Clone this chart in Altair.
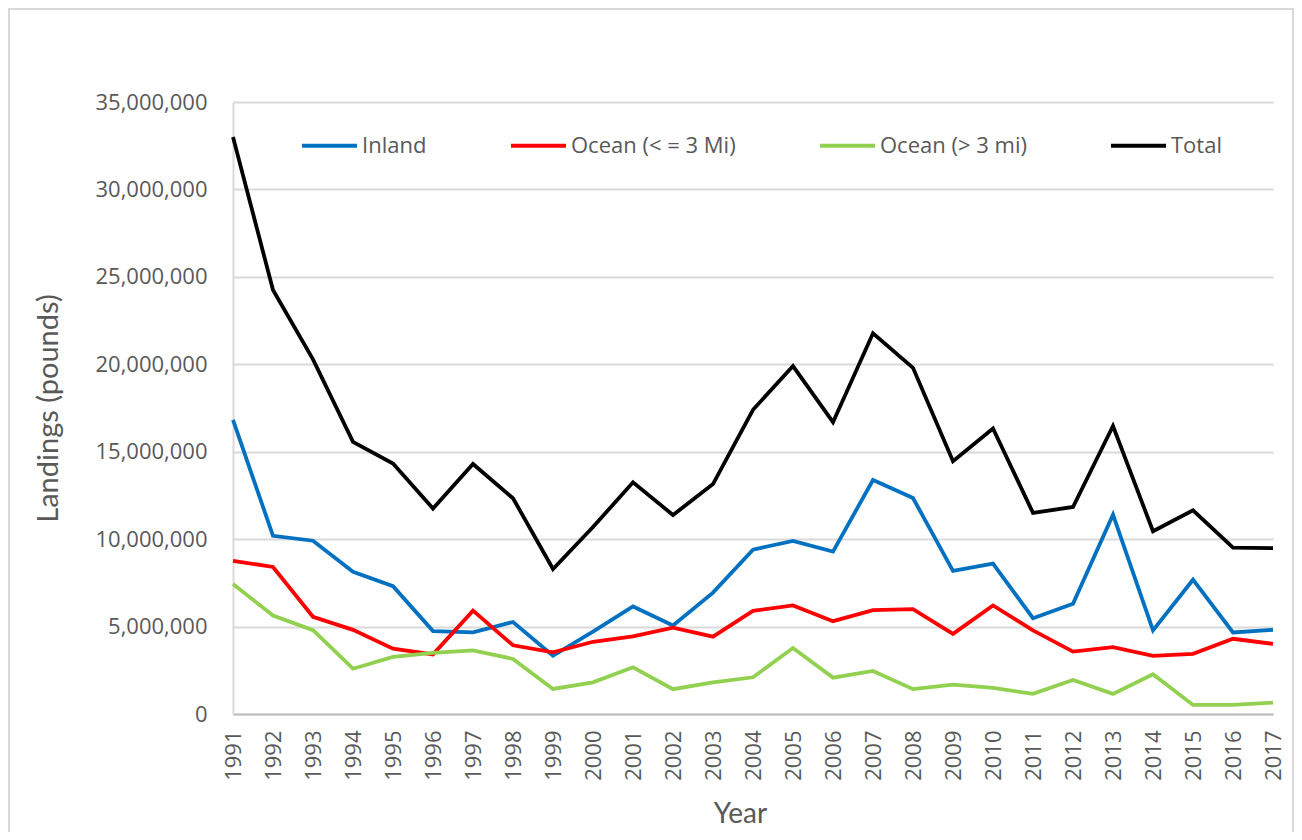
import altair as alt
import pandas as pd

years = list(range(1991, 2018))

inland = [16820000, 10190000, 9910000, 8130000, 7310000, 4740000, 4670000, 5260000, 3340000,
          4710000, 6150000, 5060000, 6940000, 9400000, 9900000, 9290000, 13380000, 12350000,
          8180000, 8600000, 5480000, 6300000, 11400000, 4780000, 7680000, 4660000, 4810000]

ocean_near = [8760000, 8410000, 5560000, 4810000, 3740000, 3410000, 5910000, 3930000, 3530000,
              4130000, 4440000, 4940000, 4420000, 5900000, 6210000, 5310000, 5940000, 6000000,
              4580000, 6210000, 4780000, 3570000, 3820000, 3320000, 3440000, 4300000, 4010000]

ocean_far = [7430000, 5630000, 4790000, 2590000, 3270000, 3500000, 3640000, 3150000, 1430000,
             1810000, 2670000, 1420000, 1810000, 2100000, 3770000, 2080000, 2460000, 1420000,
             1680000, 1490000, 1150000, 1950000, 1150000, 2270000, 520000, 520000, 650000]

total = [33000000, 24250000, 20280000, 15560000, 14320000, 11750000, 14300000, 12340000, 8290000,
         10690000, 13250000, 11380000, 13150000, 17400000, 19900000, 16690000, 21770000, 19800000,
         14460000, 16330000, 11500000, 11840000, 16470000, 10450000, 11650000, 9510000, 9490000]

series_names = ["Inland", "Ocean (< = 3 Mi)", "Ocean (> 3 mi)", "Total"]
series_colors = ["#0070C0", "#FF0000", "#92D050", "#000000"]
y_ticks = [0, 5000000, 10000000, 15000000, 20000000, 25000000, 30000000, 35000000]

rows = []
for name, vals in zip(series_names, [inland, ocean_near, ocean_far, total]):
    for yr, v in zip(years, vals):
        rows.append({"Year": yr, "Series": name, "Landings": v})
df = pd.DataFrame(rows)

W, H = 1040, 612

lines = alt.Chart(df).mark_line(strokeWidth=3.8, strokeJoin="miter").encode(
    x=alt.X("Year:O",
            scale=alt.Scale(type="point", padding=0),
            axis=alt.Axis(title="Year", labelAngle=-90, labelFont="Open Sans", labelFontSize=22,
                          labelColor="#595959", labelPadding=16, ticks=False, tickSize=0,
                          grid=False, domainColor="#bfbfbf", domainWidth=2,
                          titleFont="Lato", titleFontSize=28, titleFontWeight="normal",
                          titleColor="#595959", titleX=507, titleY=100,
                          titleBaseline="middle", titleAlign="center")),
    y=alt.Y("Landings:Q",
            scale=alt.Scale(domain=[0, 35000000], nice=False),
            axis=alt.Axis(title="Landings (pounds)", values=y_ticks, format=",d",
                          labelFont="Open Sans", labelFontSize=22, labelColor="#595959",
                          labelPadding=26, ticks=False, tickSize=0,
                          grid=True, gridColor="#d9d9d9", gridWidth=2,
                          domainColor="#d9d9d9", domainWidth=2,
                          titleFont="Lato", titleFontSize=29, titleFontWeight="normal",
                          titleColor="#595959", titleX=-185, titleY=306,
                          titleAlign="center", titleBaseline="middle")),
    color=alt.Color("Series:N",
                    scale=alt.Scale(domain=series_names, range=series_colors),
                    sort=series_names,
                    legend=alt.Legend(title=None, orient="none", legendX=67, legendY=14,
                                      direction="horizontal", columns=4,
                                      symbolType="stroke", symbolSize=3025,
                                      symbolStrokeWidth=3.8, labelFont="Open Sans",
                                      labelFontSize=22, labelColor="#595959",
                                      labelOffset=3, columnPadding=76, padding=0,
                                      labelLimit=400)),
    order=alt.Order("Year:O"),
)

frame = alt.Chart(alt.Data(values=[{"k": 1}])).mark_rect(
    fillOpacity=0, stroke="#d9d9d9", strokeWidth=2
).encode(
    x=alt.value(-224), x2=alt.value(W + 20),
    y=alt.value(-93), y2=alt.value(H + 160),
)

chart = alt.layer(frame, lines).properties(
    width=W, height=H,
    autosize=alt.AutoSizeParams(type="none"),
    padding={"left": 225, "top": 94, "right": 21, "bottom": 118},
    background="white",
).configure_view(stroke=None)

chart.save("out.html", embed_options={"renderer": "svg", "actions": False})
